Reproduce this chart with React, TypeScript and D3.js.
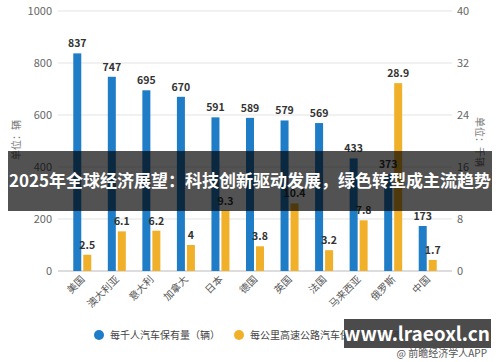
import React from "react";
import * as d3 from "d3";

const countries = ["美国", "澳大利亚", "意大利", "加拿大", "日本", "德国", "英国", "法国", "马来西亚", "俄罗斯", "中国"];
const perThousand = [837, 747, 695, 670, 591, 589, 579, 569, 433, 373, 173];
const perKm = [2.5, 6.1, 6.2, 4, 9.3, 3.8, 10.4, 3.2, 7.8, 28.9, 1.7];
const leftTicks = [0, 200, 400, 600, 800, 1000];
const rightTicks = [0, 8, 16, 24, 32, 40];
const seriesNames = ["每千人汽车保有量（辆）", "每公里高速公路汽车保有量（千辆）"];

const BLUE = "#1f7cc6";
const YELLOW = "#f1b02a";
const FONT = "'Noto Sans CJK SC', 'Noto Sans', sans-serif";

const App = () => {
  const width = 500;
  const height = 362;
  const plotLeft = 58;
  const plotRight = 452;
  const top = 11;
  const bottom = 271;

  const x = d3.scaleBand().domain(countries).range([65, 445]).padding(0);
  const yL = d3.scaleLinear().domain([0, 1000]).range([bottom, top]);
  const yR = d3.scaleLinear().domain([0, 40]).range([bottom, top]);
  const barW = 8;
  const gap = 2;

  return (
    <div style={{ position: "absolute", left: 0, top: 0 }}>
      <svg width={width} height={height} style={{ display: "block", fontFamily: FONT }}>
        <rect width={width} height={height} fill="#fff" />

        {/* grid + left ticks */}
        {leftTicks.map((t) => (
          <g key={"l" + t}>
            <line x1={plotLeft} x2={plotRight} y1={yL(t)} y2={yL(t)} stroke={t === 0 ? "#bbb" : "#e3e3e3"} strokeWidth={1} />
            <text x={52} y={yL(t)} dy="0.35em" textAnchor="end" fontSize={11} fill="#666">{t}</text>
          </g>
        ))}
        {rightTicks.map((t) => (
          <text key={"r" + t} x={457} y={yR(t)} dy="0.35em" textAnchor="start" fontSize={11} fill="#666">{t}</text>
        ))}

        {/* axis titles */}
        <text transform="translate(20,140) rotate(-90)" textAnchor="middle" fontSize={10} fill="#777">单位：辆</text>
        <text transform="translate(476,142) rotate(90)" textAnchor="middle" fontSize={10} fill="#777">单位：千辆</text>

        {/* bars */}
        {countries.map((c, i) => {
          const cx = (x(c) as number) + x.bandwidth() / 2;
          const bx = cx - gap / 2 - barW;
          const yx = cx + gap / 2;
          return (
            <g key={c}>
              <rect x={bx} y={yL(perThousand[i])} width={barW} height={bottom - yL(perThousand[i])} fill={BLUE} />
              <rect x={yx} y={yR(perKm[i])} width={barW} height={bottom - yR(perKm[i])} fill={YELLOW} />
              <text x={bx + barW / 2} y={yL(perThousand[i]) - 6} textAnchor="middle" fontSize={10.5} fontWeight="bold" fill="#333">{perThousand[i]}</text>
              <text x={yx + barW / 2} y={yR(perKm[i]) - 6} textAnchor="middle" fontSize={10.5} fontWeight="bold" fill="#333">{perKm[i]}</text>
              <text transform={`translate(${cx + 3},${bottom + 9}) rotate(-45)`} textAnchor="end" fontSize={10} fill="#555">{c}</text>
            </g>
          );
        })}

        {/* legend */}
        <circle cx={99} cy={335} r={5} fill={BLUE} />
        <text x={110} y={335} dy="0.35em" fontSize={10} fill="#444">{seriesNames[0]}</text>
        <circle cx={239} cy={335} r={5} fill={YELLOW} />
        <text x={250} y={335} dy="0.35em" fontSize={10} fill="#444">{seriesNames[1]}</text>

        {/* title band */}
        <rect x={8} y={151} width={484} height={60} fill="rgba(0,0,0,0.68)" />
        <text x={250} y={181} dy="0.35em" textAnchor="middle" fontSize={17} fontWeight="bold" fill="#fff">2025年全球经济展望：科技创新驱动发展，绿色转型成主流趋势</text>

        {/* source */}
        <text x={487} y={353} dy="0.35em" textAnchor="end" fontSize={10} fill="#555">@ 前瞻经济学人APP</text>
        <rect x={344} y={319} width={147} height={29} fill="rgba(60,60,60,0.92)" />
        <text x={417} y={334} dy="0.35em" textAnchor="middle" fontSize={19} fontWeight="bold" fill="#fff">www.lraeoxl.cn</text>
      </svg>
    </div>
  );
};

export default App;
